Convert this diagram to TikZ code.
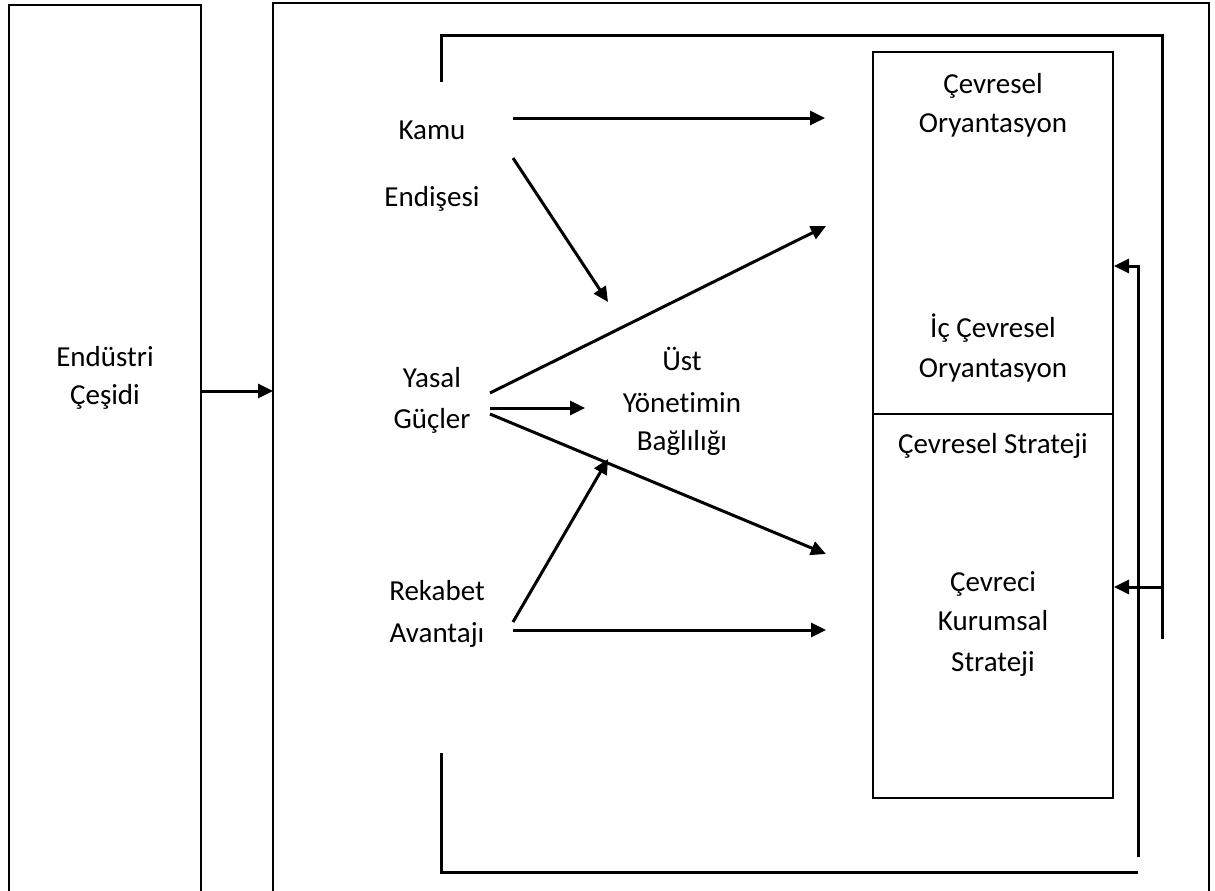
\documentclass[tikz,border=0pt]{standalone}
\usepackage{fontspec}
\setmainfont{Carlito}[Ligatures=CommonOff]
\usetikzlibrary{arrows.meta}
\begin{document}
\begin{tikzpicture}[x=0.5pt, y=-0.5pt,
    wire/.style ={line width=1.5pt},
    boxline/.style ={line width=1pt},
    link/.style ={line width=1.5pt, -{Triangle[length=7.5pt,width=7pt]}},
    txt/.style ={anchor=base, inner sep=0pt, font=\fontsize{14.5pt}{17pt}\selectfont}]
   \useasboundingbox (0,0) rectangle (1215,890);

   % frames
   \draw[boxline] (9,900) -- (9,5) -- (201,5) -- (201,900);
   \draw[boxline] (273,900) -- (273,3) -- (1209,3) -- (1209,900);
   \node[draw, boxline, inner sep=0pt, minimum width=120pt, minimum height=181pt] (orient) at (993,233) {};
   \node[draw, boxline, inner sep=0pt, minimum width=120pt, minimum height=192pt] (strat) at (993,606) {};

   % texts
   \node[txt] (endustri)  at (105,366) {Endüstri};
   \node[txt] (cesidi)    at (105,404) {Çeşidi};
   \node[txt] (kamu)      at (432,139) {Kamu};
   \node[txt] (endisesi)  at (432,206) {Endişesi};
   \node[txt] (yasal)     at (432,387) {Yasal};
   \node[txt] (gucler)    at (432,428) {Güçler};
   \node[txt] (rekabet)   at (437,600) {Rekabet};
   \node[txt] (avantaji)  at (437,642) {Avantajı};
   \node[txt] (ust)       at (682,370) {Üst};
   \node[txt] (yonetim)   at (682,412) {Yönetimin};
   \node[txt] (bagli)     at (682,450) {Bağlılığı};
   \node[txt] (cevresel)  at (993,93)  {Çevresel};
   \node[txt] (oryan)     at (993,132) {Oryantasyon};
   \node[txt] (iccevre)   at (993,337) {İç Çevresel};
   \node[txt] (icoryan)   at (993,377) {Oryantasyon};
   \node[txt] (cstrat)    at (993,453) {Çevresel Strateji};
   \node[txt] (cevreci)   at (993,591) {Çevreci};
   \node[txt] (kurumsal)  at (993,630) {Kurumsal};
   \node[txt] (kstrat)    at (993,671) {Strateji};

   % arrow ends
   \coordinate (ind1) at (201,391);
   \coordinate (ind2) at (273,391);
   \coordinate (k1) at (513,118);
   \coordinate (k2) at (513,158);
   \coordinate (y1) at (490,393);
   \coordinate (y2) at (490,408);
   \coordinate (y3) at (490,414);
   \coordinate (r1) at (513,622);
   \coordinate (r2) at (513,630);
   \coordinate (t1) at (825,118);
   \coordinate (t2) at (608,302);
   \coordinate (t3) at (826,226);
   \coordinate (t4) at (585,408);
   \coordinate (t5) at (826,554);
   \coordinate (t6) at (608,459);
   \coordinate (t7) at (826,630);

   \draw[link] (ind1) to (ind2);
   \draw[link] (k1) to (t1);
   \draw[link] (k2) to (t2);
   \draw[link] (y1) to (t3);
   \draw[link] (y2) to (t4);
   \draw[link] (y3) to (t5);
   \draw[link] (r1) to (t6);
   \draw[link] (r2) to (t7);

   % feedback
   \draw[wire] (441,82) -- (441,35) -- (1162,35) -- (1162,639);
   \draw[link] (1162,587) -- (orient.east |- 0,587);
   \draw[wire] (441,753) -- (441,872) -- (1138,872);
   \draw[link] (1138,857) -- (1138,266) -- (orient.east |- 0,266);
 \end{tikzpicture}
\end{document}
